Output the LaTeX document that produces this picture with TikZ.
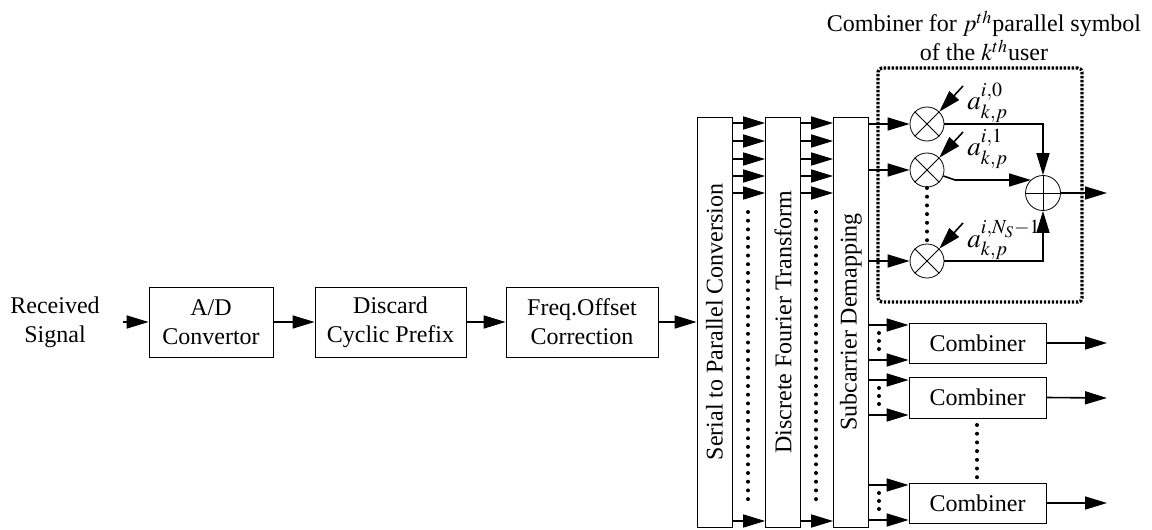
\documentclass[tikz,border=0pt]{standalone}
\usepackage{mathptmx}
\usepackage[no-math]{fontspec}
\setmainfont{Liberation Serif}
\usetikzlibrary{arrows.meta}

\tikzset{
	blk/.style={draw, thin, minimum height=35pt, align=center, inner sep=1pt},
	tallblk/.style={draw, thin, minimum width=17.5pt, minimum height=205pt, inner sep=0pt},
	mult/.style={draw, thin, circle, minimum size=17pt, inner sep=0pt},
	sumc/.style={draw, thin, circle, minimum size=17.5pt, inner sep=0pt},
	dotcol/.style={-, line width=2pt, line cap=round, dash pattern=on 0pt off 4.35pt},
	smalldots/.style={-, line width=2pt, line cap=round, dash pattern=on 0pt off 4pt},
}

\begin{document}
\begin{tikzpicture}[x=0.5pt, y=-0.5pt, font=\fontsize{12}{14.5}\selectfont,
	line width=0.8pt, arrows={-Triangle[length=11pt,width=6.5pt]}]
	\useasboundingbox (0,0) rectangle (1152,530);

	% front end
	\node[align=center] (rx) at (55,322) {Received\\Signal};
	\node[blk, minimum width=62pt] (ad) at (211,322) {A/D\\Convertor};
	\node[blk, minimum width=75.5pt] (dcp) at (390.5,322) {Discard\\Cyclic Prefix};
	\node[blk, minimum width=76pt] (fo) at (582,322) {Freq.Offset\\Correction};

	\draw ([xshift=8pt]rx.east) -- (ad.west);
	\draw (ad) -- (dcp);
	\draw (dcp) -- (fo);

	% parallel blocks
	\node[tallblk] (sp) at (714.5,322) {};
	\node[rotate=90] at (sp) {Serial to Parallel Conversion};
	\node[tallblk] (dft) at (783,322) {};
	\node[rotate=90] at (dft) {Discrete Fourier Transform};
	\node[tallblk] (scd) at (851,322) {};
	\node[rotate=90] at (scd) {Subcarrier Demapping};

	\draw (fo) -- (fo -| sp.west);
	\foreach \yy in {123,141,159,176,193,521} {
		\draw (sp.east |- 0,\yy) -- (dft.west |- 0,\yy);
		\draw (dft.east |- 0,\yy) -- (scd.west |- 0,\yy);
	}
	\draw[dotcol] (748,212) -- (748,502);
	\draw[dotcol] (816,212) -- (816,502);

	% combiner for one symbol
	\node[draw, -, line width=1.6pt, dash pattern=on 1.2pt off 0.8pt, rounded corners=2pt,
		minimum width=102pt, minimum height=117pt] (cmb) at (980,185) {};
	\node[align=center] (ttl) at (984,36) {Combiner for $p^{th}$parallel symbol\\of the $k^{th}$user};

	\node[mult] (m0) at (927,124) {};
	\node[mult] (m1) at (927,170) {};
	\node[mult] (m2) at (927,261) {};
	\node[sumc] (sm) at (1043,193) {};
	\foreach \m in {m0,m1,m2}
		\draw[-, thin] (\m.north east) -- (\m.south west) (\m.north west) -- (\m.south east);
	\draw[-, thin] (sm.north) -- (sm.south) (sm.west) -- (sm.east);
	\draw[dotcol] (927,188) -- (927,241);

	\draw (scd.east |- m0) -- (m0);
	\draw (scd.east |- m1) -- (m1);
	\draw (scd.east |- m2) -- (m2);

	\coordinate (w0) at (963,86);
	\coordinate (w1) at (963,132);
	\coordinate (w2) at (963,223);
	\draw (w0) -- (m0.north east);
	\draw (w1) -- (m1.north east);
	\draw (w2) -- (m2.north east);
	\node[anchor=west, font=\fontsize{13.5}{15}\selectfont] (a0) at (960,103) {$a_{k,p}^{i,0}$};
	\node[anchor=west, font=\fontsize{13.5}{15}\selectfont] (a1) at (960,149) {$a_{k,p}^{i,1}$};
	\node[anchor=west, font=\fontsize{13.5}{15}\selectfont] (a2) at (960,240) {$a_{k,p}^{i,N_S-1}$};

	\coordinate (bend) at (955,180);
	\draw (m0.east) -| (sm.north);
	\draw (m1.-20) -- (bend) -- (bend -| sm.132);
	\draw (m2.east) -| (sm.south);
	\coordinate (sout) at (1107,193);
	\draw (sm.east) -- (sout);

	% other combiners
	\node[blk, minimum width=68.5pt, minimum height=20pt] (c1) at (977.5,343) {Combiner};
	\node[blk, minimum width=68.5pt, minimum height=20.5pt] (c2) at (977.5,397.5) {Combiner};
	\node[blk, minimum width=68.5pt, minimum height=20pt] (c3) at (977.5,503) {Combiner};

	\foreach \cc/\ya/\yb in {c1/325/360, c2/380/415, c3/485/520} {
		\draw (scd.east |- 0,\ya) -- (\cc.west |- 0,\ya);
		\draw (scd.east |- 0,\yb) -- (\cc.west |- 0,\yb);
		\draw[smalldots] (879,\ya+8) -- (879,\yb-11);
	}
	\coordinate (c1out) at (1107,343);
	\coordinate (c2out) at (1107,398);
	\coordinate (c3out) at (1107,503);
	\draw (c1.east) -- (c1out);
	\draw (c2.east) -- (c2out);
	\draw (c3.east) -- (c3out);
	\draw[dotcol] (977,425) -- (977,478);
\end{tikzpicture}
\end{document}
